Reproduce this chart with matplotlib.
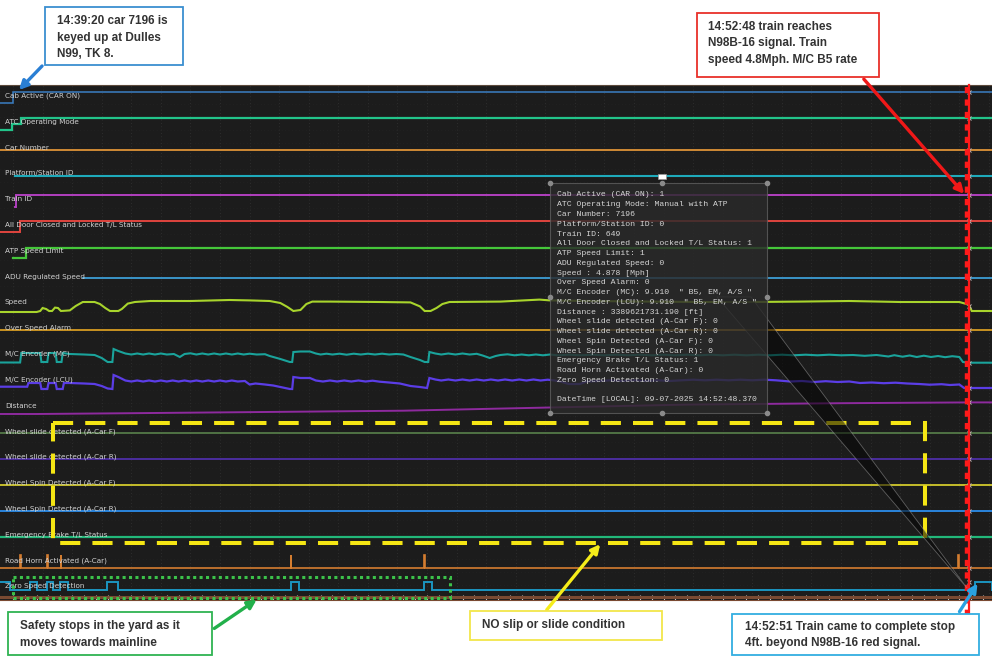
import matplotlib
matplotlib.use("Agg")
import numpy as np
import matplotlib.pyplot as plt
from matplotlib.patches import Rectangle, Polygon, FancyArrowPatch
from matplotlib.lines import Line2D

# time in seconds after 14:39:20 (car keyed up); 808 s = 14:52:48
T0, T1 = -11, 827.6

cab_t = [T0, 0, T1];            cab_v = [0, 1, 1]
atc_t = [T0, -1, 7, T1];        atc_v = [0, 1, 2, 2]
car_t = [T0, T1];               car_v = [7196, 7196]
plat_t = [2, T1];               plat_v = [0, 0]
train_t = [2, 2.5, T1];         train_v = [0, 649, 649]
door_t = [T0, 6, T1];           door_v = [0, 1, 1]
atp_t = [0, 11, T1];            atp_v = [0, 1, 1]
adu_t = [59, T1];               adu_v = [0, 0]
alarm_t = [T0, T1];             alarm_v = [0, 0]

speed_t = [T0, 20, 23, 25, 28, 30.5, 33, 35.5, 38, 40.5, 48, 53, 59, 69, 73.5, 78, 82, 89,
           92, 97, 103, 116, 150, 183, 200, 217, 226, 232, 237, 243, 248, 253, 268, 310,
           336, 344, 348, 353, 358, 363, 369, 412, 445, 454, 488, 538, 581, 623, 665, 707,
           750, 800, 806, 808, 810.5, T1]
speed_mph = [0, 0, 0.5, 2, 1.5, 0.5, 0.5, 2.2, 2, 0.5, 0.8, 3, 5, 5, 4, 2, 0.5, 0.5,
             1.5, 4.2, 5, 5.5, 5.5, 6, 5.8, 5.5, 4.5, 2.5, 0.5, 1, 4, 5.2, 5.2, 5,
             4.8, 2.8, 0.5, 0.5, 2, 4, 5, 5.2, 6.2, 5.8, 5.5, 5.2, 5, 5, 5.2, 5.5,
             5, 5, 4, 3.5, 0.5, 0.5]

mc_t = [T0, 6, 7, 23, 24, 29, 30, 36, 37, 41, 42, 48, 60, 69, 75, 80, 84, 85, 89, 95,
        100, 105, 110, 115, 120, 125, 130, 136, 141, 145, 150, 155, 160, 165, 170, 175,
        180, 185, 190, 195, 200, 206, 213, 217, 226, 234, 236, 237, 243, 251, 256, 260,
        265, 270, 276, 282, 288, 294, 300, 306, 312, 318, 324, 330, 336, 344, 348, 351,
        352, 357, 362, 368, 374, 380, 386, 392, 397, 403, 408, 412, 418, 424, 430, 436,
        442, 448, 454, 460, 470, 480, 490, 500, 510, 520, 530, 540, 550, 560, 570, 580,
        590, 600, 610, 620, 630, 640, 650, 660, 670, 680, 690, 700, 710, 720, 730, 740,
        745, 752, 758, 764, 770, 776, 782, 788, 794, 800, 803, 808, T1]
mc_v = [0.5, 0.5, 10, 10, 1, 1, 10, 10, 1, 1, 10, 9, 8.5, 8, 5, 1, 1, 14, 12, 9.5,
        8.5, 9.5, 8.5, 9.5, 8.5, 9.5, 8.5, 9, 6, 9, 9.7, 8.5, 9.5, 8.5, 9.5, 8.5,
        9.5, 8.5, 9.5, 8.5, 9.3, 8.5, 8.8, 7, 4, 1, 1, 11, 11.5, 11.5, 9.5, 8.5,
        9.3, 8.5, 9.3, 8.3, 9.3, 8.5, 9.3, 8.5, 9.3, 8.5, 9, 8.5, 6, 3, 1, 1,
        11, 9.5, 8.5, 9.5, 8.5, 9.5, 8.5, 9.2, 7.5, 5, 7, 8, 8.7, 7.7, 8.5, 7.7,
        8.5, 7.7, 8.5, 7.7, 8.3, 7.7, 8.3, 7.7, 8.3, 7.7, 8.3, 7.7, 8.3, 7.7, 8.3, 7.7,
        8.3, 7.7, 8.3, 7.7, 8.3, 7.7, 8.3, 7.7, 8.3, 7.7, 8.3, 7.7, 8, 7.2, 8, 6.5,
        7.8, 6.3, 7.5, 6, 7.3, 6, 7, 5.8, 6.8, 6, 1, 0.3, 0.3]

lcu_t = [T0, 12, 13, 23, 24, 29, 30, 36, 37, 42, 43, 48, 60, 69, 75, 80, 84, 85, 89, 95,
         100, 105, 110, 115, 120, 125, 130, 135, 140, 145, 150, 155, 160, 165, 170, 175,
         180, 185, 190, 196, 200, 205, 213, 220, 226, 234, 236, 237, 243, 251, 256, 262,
         268, 274, 280, 286, 292, 298, 304, 310, 318, 327, 336, 344, 350, 352, 357, 362,
         368, 374, 380, 386, 392, 398, 404, 410, 416, 422, 428, 434, 440, 446, 452, 458,
         464, 470, 479, 485, 496, 505, 515, 525, 535, 545, 555, 565, 575, 585, 595, 605,
         615, 625, 635, 645, 657, 667, 677, 687, 697, 707, 716, 726, 736, 746, 756, 766,
         775, 785, 792, 800, 804, 809, T1]
lcu_v = [2.3, 2.3, 6, 6, 0, 0, 6, 6, 0, 0, 6, 6, 5.5, 5, 3, 0.5, 0, 14, 12, 8.5,
         7.5, 8.5, 7.5, 8.5, 7.5, 8.5, 7.5, 8.5, 7.5, 8.5, 7.5, 8.5, 7.5, 8.5, 7.5, 8.5,
         7.5, 8.5, 7.5, 8, 4.5, 5.5, 4.5, 3.5, 2, 0, 0, 12, 11, 11, 8.5, 7.5,
         8.5, 7.5, 8.5, 7.5, 8.5, 7.5, 8.3, 7.3, 6.5, 5.5, 3, 2, 1, 11, 9.5, 8.5,
         9.5, 8.5, 9.5, 8.5, 9.5, 8.5, 9.5, 8.5, 9.5, 8.5, 9.5, 8.5, 9.5, 8.5, 9.3, 8.5,
         7, 5, 5, 7.5, 8, 8.7, 8, 8.7, 8, 8.7, 8, 8.7, 9.3, 8.7, 9.3, 8.7,
         9.3, 8.7, 9.3, 8.7, 7.5, 8, 7, 7.8, 7, 7.5, 6, 6.5, 5.8, 6.3, 5.5, 5,
         4.3, 4.8, 4, 4.5, 1, 1, 1]

dist_t = [T0, 20, 100, 250, 330, 450, 570, 700, 810, T1]
dist_ft = [0, 0, 400, 1200, 1650, 3200, 4700, 5400, 5800, 5800]

flat_t = [T0, T1]
slide_f_v = [0, 0]
slide_r_v = [0, 0]
spin_f_v = [0, 0]
spin_r_v = [0, 0]
ebrake_v = [1, 1]

horn_on = [6, 29, 40.5, 235, 347.5, 799]
zero_on = [T0, 14.4, 28.7, 39.7, 79.5, 235, 347.4, 813]
zero_off = [-2.5, 20.3, 33.8, 46.5, 88.8, 241.8, 354.2, T1]

labels = ["Cab Active (CAR ON)", "ATC Operating Mode", "Car Number", "Platform/Station ID",
          "Train ID", "All Door Closed and Locked T/L Status", "ATP Speed Limit",
          "ADU Regulated Speed", "Speed", "Over Speed Alarm", "M/C Encoder (MC)",
          "M/C Encoder (LCU)", "Distance", "Wheel slide detected (A-Car F)",
          "Wheel slide detected (A-Car R)", "Wheel Spin Detected (A-Car F)",
          "Wheel Spin Detected (A-Car R)", "Emergency Brake T/L Status",
          "Road Horn Activated (A-Car)", "Zero Speed Detection"]

tooltip = ["Cab Active (CAR ON): 1", "ATC Operating Mode: Manual with ATP", "Car Number: 7196",
           "Platform/Station ID: 0", "Train ID: 649", "All Door Closed and Locked T/L Status: 1",
           "ATP Speed Limit: 1", "ADU Regulated Speed: 0", "Speed : 4.878 [Mph]",
           "Over Speed Alarm: 0", 'M/C Encoder (MC): 9.910  " B5, EM, A/S "',
           'M/C Encoder (LCU): 9.910  " B5, EM, A/S "', "Distance : 3389621731.190 [ft]",
           "Wheel slide detected (A-Car F): 0", "Wheel slide detected (A-Car R): 0",
           "Wheel Spin Detected (A-Car F): 0", "Wheel Spin Detected (A-Car R): 0",
           "Emergency Brake T/L Status: 1", "Road Horn Activated (A-Car): 0",
           "Zero Speed Detection: 0", "", "DateTime [LOCAL]: 09-07-2025 14:52:48.370"]

# step arrays for the event channels
horn_t, horn_v = [T0], [0]
for h in horn_on:
    horn_t += [h, h + 0.4]
    horn_v += [1, 0]
horn_t.append(T1); horn_v.append(0)
zero_t, zero_v = [], []
for a, b in zip(zero_on, zero_off):
    zero_t += [a, b]
    zero_v += [1, 0]

W, H = 992, 660
TOP, BOT = 85, 600
t_of = lambda px: T0 + px * (T1 - T0) / W

fig = plt.figure(figsize=(9.92, 6.6), dpi=100)
fig.patch.set_facecolor("white")
ax = fig.add_axes([0, 1 - BOT / H, 1, (BOT - TOP) / H])
ax.set_facecolor("#1c1c1c")
ax.set_xlim(T0, T1)
ax.set_ylim(BOT, TOP)

# faint dotted background grid
for gx in np.arange(0, T1, 25):
    ax.axvline(gx, color="#333333", lw=0.6, ls=(0, (1, 3)), zorder=0)
for gy in np.arange(TOP + 6, BOT, 13):
    ax.axhline(gy, color="#262626", lw=0.5, ls=(0, (1, 4)), zorder=0)

# (times, values, baseline px, px per unit, colour, width, steps)
channels = [
    (cab_t, cab_v, 103, 11, "#3b7fc4", 1.1, True),
    (atc_t, atc_v, 130, 6, "#22c48a", 1.6, True),
    (car_t, car_v, 149.5, 0, "#d08a35", 1.4, True),
    (plat_t, plat_v, 175.5, 0, "#1eaabb", 1.5, True),
    (train_t, train_v, 207, 12 / 649, "#b23fbf", 1.4, True),
    (door_t, door_v, 232, 11, "#e0453e", 1.4, True),
    (atp_t, atp_v, 258, 10, "#45c73a", 1.6, True),
    (adu_t, adu_v, 278, 0, "#3d9ed6", 1.3, True),
    (speed_t, speed_mph, 312, 2, "#a8d42c", 1.5, False),
    (alarm_t, alarm_v, 330, 0, "#c99322", 1.4, True),
    (mc_t, mc_v, 363, 1, "#1aa39b", 1.5, False),
    (lcu_t, lcu_v, 389, 1, "#5b3de6", 1.6, False),
    (dist_t, dist_ft, 414, 12 / 6000, "#8e2a9e", 1.4, False),
    (flat_t, slide_f_v, 433, 0, "#5e8a50", 1.1, True),
    (flat_t, slide_r_v, 459, 0, "#4b2d9e", 1.4, True),
    (flat_t, spin_f_v, 485, 0, "#d2c92c", 1.3, True),
    (flat_t, spin_r_v, 511, 0, "#2a84dc", 1.4, True),
    (flat_t, ebrake_v, 537, 0, "#22b87a", 1.6, True),
    (horn_t, horn_v, 568, 13, "#d47d30", 1.2, True),
    (zero_t, zero_v, 590, 8, "#1b95c0", 1.4, True),
]

for i, (t, v, base, k, col, lw, steps) in enumerate(channels):
    y = base - k * np.asarray(v, dtype=float)
    ax.plot(t, y, color=col, lw=lw, drawstyle="steps-post" if steps else "default",
            solid_joinstyle="miter", zorder=2)
    ax.text(0.005, 96 + 25.8 * i, labels[i], transform=ax.get_yaxis_transform(),
            fontsize=5.2, color="#d2d2d2", va="center", ha="left", zorder=5)
    yc = base - k * np.interp(808.5, t, np.asarray(v, dtype=float))
    ax.plot(808.5, yc, marker="x", ms=2.5, mew=0.7, color="#c0c0c0", zorder=7)

# bottom time axis
ax.axhline(596.5, color="#7a4a32", lw=2.2, zorder=3)
ax.set_xticks(np.arange(0, T1, 10))
ax.set_yticks([])
ax.tick_params(axis="x", direction="in", length=3.5, width=0.8, color="#d0d0d0",
               labelbottom=False)
for s in ["left", "right"]:
    ax.spines[s].set_visible(False)
ax.spines["bottom"].set_color("#7a4a32")
ax.spines["top"].set_color("#5c4a3c")

# red cursor at 14:52:48
ax.add_line(Line2D([808.4, 808.4], [TOP, 618], color="#ff1a1a", lw=1.6, clip_on=False, zorder=8))
ax.add_line(Line2D([806.5, 806.5], [TOP + 2, 618], color="#ff1a1a", lw=3.2,
                   ls=(0, (1.4, 1.4)), clip_on=False, zorder=8))

# yellow dashed and green dotted boxes
ax.add_patch(Rectangle((t_of(53), 423), t_of(925) - t_of(53), 120, fill=False,
                       ec="#f5e614", lw=2.9, ls=(0, (5, 3)), zorder=6))
ax.add_patch(Rectangle((t_of(13), 576.5), t_of(450) - t_of(13), 21, fill=False,
                       ec="#3cc24a", lw=2.2, ls=(0, (1, 1.1)), zorder=6, clip_on=False))

# tooltip with its pointer wedge
ax.add_patch(Polygon([(t_of(717), 297), (t_of(751), 297), (t_of(967), 588)], closed=True,
                     fc="#050505", alpha=0.55, ec="#9a9a9a", lw=0.6, zorder=8))
ax.add_patch(Rectangle((t_of(550), 183), t_of(767) - t_of(550), 230, fc="#2a2a2a",
                       alpha=0.82, ec="#5e5e5e", lw=0.8, zorder=9))
for cx, cy in [(550, 183), (662, 183), (767, 183), (550, 297), (767, 297),
               (550, 413), (662, 413), (767, 413)]:
    ax.plot(t_of(cx), cy, "o", ms=3, color="#8a8a8a", zorder=10)
ax.add_patch(Rectangle((t_of(658), 174), t_of(666) - t_of(658), 5, fc="white", ec="#999",
                       lw=0.5, zorder=10, clip_on=False))
for j, line in enumerate(tooltip):
    ax.text(t_of(557), 195 + 9.76 * j, line, fontsize=5.9, family="Liberation Mono",
            color="#d6d6d6", va="center", ha="left", zorder=11)


# callout boxes in figure pixels
def fx(x):
    return x / W


def fy(y):
    return 1 - y / H


def callout(x0, y0, x1, y1, col, lines, tx, ys):
    fig.add_artist(Rectangle((fx(x0), fy(y1)), fx(x1) - fx(x0), fy(y0) - fy(y1),
                             transform=fig.transFigure, fc="white", ec=col, lw=1.3, zorder=20))
    for line, yy in zip(lines, ys):
        fig.text(fx(tx), fy(yy), line, fontsize=8.5, fontweight="bold", family="Liberation Sans",
                 color="#333333", va="center", ha="left", zorder=21)


def arrow(p0, p1, col):
    fig.add_artist(FancyArrowPatch((fx(p0[0]), fy(p0[1])), (fx(p1[0]), fy(p1[1])),
                                   transform=fig.transFigure, arrowstyle="-|>",
                                   mutation_scale=13, lw=2.4, color=col, zorder=19))


callout(45, 7, 183, 65, "#3a8fd0", ["14:39:20 car 7196 is", "keyed up at Dulles", "N99, TK 8."],
        57, [21, 38, 54])
callout(697, 13, 879, 77, "#e8302a",
        ["14:52:48 train reaches", "N98B-16 signal. Train", "speed 4.8Mph. M/C B5 rate"],
        708, [27, 43, 60])
callout(8, 612, 212, 655, "#2fb352", ["Safety stops in the yard as it", "moves towards mainline"],
        20, [626, 643])
callout(470, 611, 662, 640, "#f2e64a", ["NO slip or slide condition"], 482, [625])
callout(732, 614, 979, 655, "#33aee0",
        ["14:52:51 Train came to complete stop", "4ft. beyond N98B-16 red signal."],
        745, [627, 643])

arrow((44, 64), (17, 92), "#2a7fd4")
arrow((862, 77), (966, 196), "#f01818")
arrow((212, 630), (259, 598), "#22b04a")
arrow((545, 612), (602, 542), "#f5ec1a")
arrow((958, 614), (979, 581), "#2aa2e0")

fig.savefig("out.png", dpi=100, facecolor="white")
